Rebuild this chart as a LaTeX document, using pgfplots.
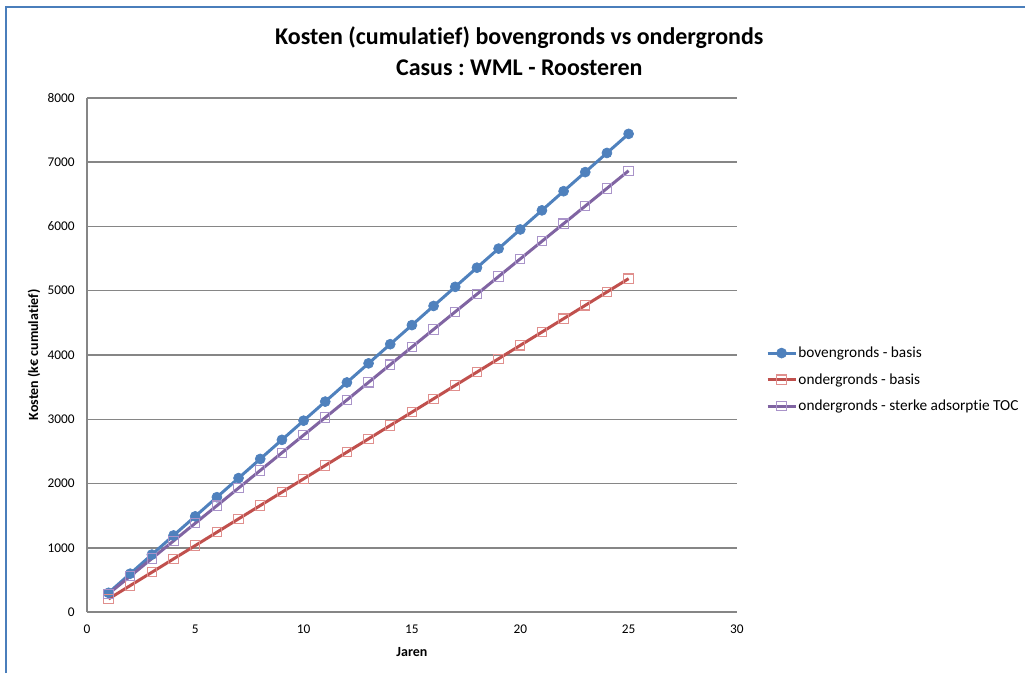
\documentclass[border=0pt]{standalone}
\usepackage{pgfplots}
\pgfplotsset{compat=1.18}
\usepackage{fontspec}
\setmainfont{Carlito}[Ligatures={NoCommon,NoRequired,NoContextual}]
\frenchspacing
\definecolor{cblue}{HTML}{4F81BD}
\definecolor{cred}{HTML}{C0504D}
\definecolor{cpurple}{HTML}{8064A2}
\definecolor{credm}{HTML}{E08F8D}
\definecolor{cpurplem}{HTML}{A993C9}
\definecolor{cframe}{HTML}{4A7EBB}
\definecolor{cgrid}{HTML}{868686}
\begin{document}
\begin{tikzpicture}
\path (0,0) rectangle (769.5pt,505.5pt);
\draw[cframe, line width=2.2pt] (4.5pt,0pt) -- (4.5pt,500.25pt) -- (769.5pt,500.25pt);
\node[font=\fontsize{18pt}{21pt}\selectfont\bfseries] at (390pt,477pt) {Kosten (cumulatief) bovengronds vs ondergronds};
\node[font=\fontsize{18pt}{21pt}\selectfont\bfseries] at (390pt,454.5pt) {Casus : WML - Roosteren};
\begin{axis}[
  at={(65.25pt,45.75pt)}, anchor=south west,
  scale only axis, width=488.25pt, height=386.25pt,
  xmin=0, xmax=30, ymin=0, ymax=8000,
  xtick={0,5,...,30}, ytick={0,1000,...,8000},
  axis x line*=bottom, axis y line*=left,
  axis line style={-, draw=cgrid, line width=1pt},
  ymajorgrids, grid style={draw=cgrid, line width=1pt},
  major tick length=0pt,
  /pgf/number format/assume math mode=true,
  /pgf/number format/1000 sep={},
  tick label style={font=\fontsize{10pt}{12pt}\selectfont, inner sep=0pt},
  xticklabel style={anchor=center, yshift=-12.75pt},
  yticklabel style={anchor=east, xshift=-9pt},
  xlabel={Jaren},
  xlabel style={at={(axis description cs:0.5,-0.0777)}, anchor=center, font=\fontsize{10.5pt}{12pt}\selectfont\bfseries},
  ylabel={Kosten (k€ cumulatief)},
  ylabel style={at={(axis description cs:-0.0814,0.5)}, anchor=center, font=\fontsize{10.5pt}{12pt}\selectfont\bfseries},
  clip=false,
  legend style={at={(axis description cs:1.0445,0.452)}, anchor=west, draw=none, fill=none,
    font=\fontsize{11.5pt}{13pt}\selectfont, row sep=8.5pt, inner sep=0pt,
    nodes={inner sep=1pt}},
  legend cell align=left,
  legend image code/.code={\draw[mark repeat=2,mark phase=2,#1] plot coordinates {(0pt,0pt) (10.5pt,0pt) (21pt,0pt)};},
]
\addplot[cblue, line width=2.25pt, mark=*, mark size=3.75pt, mark options={solid, fill=cblue, draw=cblue, line width=0.5pt}] coordinates {
(1,300) (2,598) (3,895) (4,1193) (5,1490) (6,1788) (7,2085) (8,2383) (9,2680) (10,2978)
(11,3275) (12,3573) (13,3870) (14,4168) (15,4465) (16,4763) (17,5060) (18,5358) (19,5655) (20,5953)
(21,6250) (22,6548) (23,6845) (24,7143) (25,7440)};
\addlegendentry{bovengronds - basis}
\addplot[cred, line width=2.25pt, mark=square, mark size=3.5pt, mark options={solid, draw=credm, fill=none, line width=0.8pt}] coordinates {
(1,205) (2,413) (3,620) (4,828) (5,1035) (6,1243) (7,1451) (8,1658) (9,1866) (10,2073)
(11,2281) (12,2489) (13,2696) (14,2904) (15,3111) (16,3319) (17,3527) (18,3734) (19,3942) (20,4150)
(21,4357) (22,4565) (23,4772) (24,4980) (25,5188)};
\addlegendentry{ondergronds - basis}
\addplot[cpurple, line width=2.25pt, mark=square, mark size=3.5pt, mark options={solid, draw=cpurplem, fill=none, line width=0.8pt}] coordinates {
(1,285) (2,559) (3,833) (4,1108) (5,1382) (6,1656) (7,1930) (8,2204) (9,2479) (10,2753)
(11,3027) (12,3301) (13,3575) (14,3850) (15,4124) (16,4398) (17,4672) (18,4946) (19,5221) (20,5495)
(21,5769) (22,6043) (23,6317) (24,6592) (25,6866)};
\addlegendentry{ondergronds - sterke adsorptie TOC}
\end{axis}
\end{tikzpicture}
\end{document}
